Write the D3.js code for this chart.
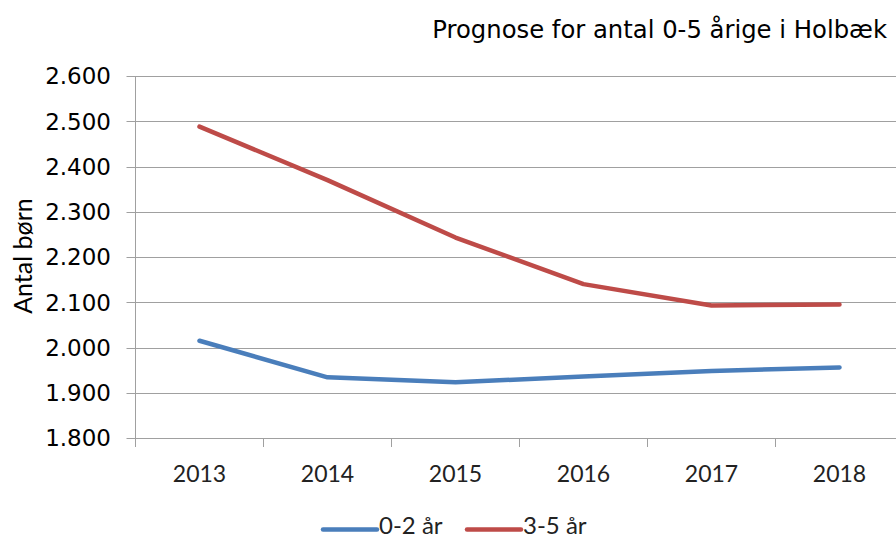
<!DOCTYPE html>
<html>
<head>
<meta charset="utf-8">
<script src="https://cdn.jsdelivr.net/npm/d3@7"></script>
<style>
  html, body { margin: 0; padding: 0; background: #fff; }
  svg { display: block; }
</style>
</head>
<body>
<svg id="chart" width="896" height="538"></svg>
<script>
const years = ["2013", "2014", "2015", "2016", "2017", "2018"];
const series02 = [2015, 1934, 1923, 1936, 1948, 1956];
const series35 = [2488, 2370, 2243, 2140, 2093, 2095];
const seriesNames = ["0-2 år", "3-5 år"];
const seriesColors = ["#4a7ebb", "#be4b48"];
const yTicks = [1800, 1900, 2000, 2100, 2200, 2300, 2400, 2500, 2600];
const titleText = "Prognose for antal 0-5 årige i Holbæk";
const yTitle = "Antal børn";

(function () {
const svg = d3.select("#chart");
const pLeft = 135.5, pTop = 76, pBottom = 438, bandW = 128;

const x = d3.scaleBand().domain(years).range([pLeft, pLeft + bandW * years.length]);
const y = d3.scaleLinear().domain([1800, 2600]).range([pBottom, pTop]);
const fmt = v => d3.format(",")(v).replace(",", ".");

// gridlines
svg.append("g").selectAll("line").data(yTicks).join("line")
  .attr("x1", pLeft - 9).attr("x2", 905)
  .attr("y1", d => Math.round(y(d)) + 0.5).attr("y2", d => Math.round(y(d)) + 0.5)
  .attr("stroke", "#a0a0a0").attr("stroke-width", 1);

// y axis line
svg.append("line").attr("x1", pLeft).attr("x2", pLeft)
  .attr("y1", pTop).attr("y2", pBottom + 9)
  .attr("stroke", "#a0a0a0").attr("stroke-width", 1);

// x ticks at band boundaries
svg.append("g").selectAll("line").data(years.slice(1)).join("line")
  .attr("x1", d => x(d)).attr("x2", d => x(d))
  .attr("y1", pBottom).attr("y2", pBottom + 9)
  .attr("stroke", "#a0a0a0").attr("stroke-width", 1);

// y labels
svg.append("g").selectAll("text").data(yTicks).join("text")
  .attr("x", 111).attr("y", d => y(d))
  .attr("dy", "0.36em")
  .attr("text-anchor", "end")
  .attr("font-family", "DejaVu Sans")
  .attr("font-size", 23)
  .attr("fill", "#000")
  .text(fmt);

// x labels
svg.append("g").selectAll("text").data(years).join("text")
  .attr("x", d => x(d) + x.bandwidth() / 2).attr("y", 482)
  .attr("text-anchor", "middle")
  .attr("font-family", "Lato")
  .attr("font-size", 23)
  .attr("fill", "#222")
  .text(d => d);

// lines
const line = d3.line().x((d, i) => x(years[i]) + x.bandwidth() / 2).y(d => y(d));
[series02, series35].forEach((s, k) => {
  svg.append("path").datum(s)
    .attr("d", line)
    .attr("fill", "none")
    .attr("stroke", seriesColors[k])
    .attr("stroke-width", 4.5)
    .attr("stroke-linecap", "round")
    .attr("stroke-linejoin", "round");
});

// title
svg.append("text").attr("x", 887).attr("y", 38)
  .attr("text-anchor", "end")
  .attr("font-family", "DejaVu Sans")
  .attr("font-size", 24.3)
  .attr("fill", "#000")
  .text(titleText);

// y axis title
svg.append("text")
  .attr("transform", "translate(32,256) rotate(-90)")
  .attr("text-anchor", "middle")
  .attr("font-family", "Lato")
  .attr("font-size", 25)
  .attr("fill", "#000")
  .text(yTitle);

// legend
const legX = [323, 467];
seriesNames.forEach((n, k) => {
  svg.append("line")
    .attr("x1", legX[k]).attr("x2", legX[k] + 54)
    .attr("y1", 529.5).attr("y2", 529.5)
    .attr("stroke", seriesColors[k]).attr("stroke-width", 4.5)
    .attr("stroke-linecap", "round");
  svg.append("text")
    .attr("x", legX[k] + 56).attr("y", 534)
    .attr("font-family", "Lato")
    .attr("font-size", 24)
    .attr("fill", "#222")
    .text(n);
});
})();
</script>
</body>
</html>
